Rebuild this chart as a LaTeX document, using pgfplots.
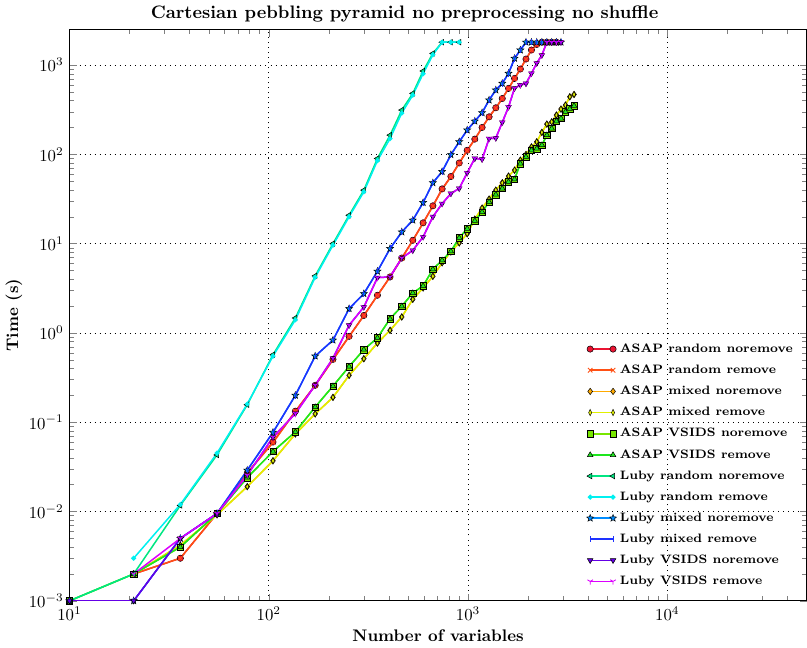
\documentclass[border=0pt]{standalone}
\usepackage{pgfplots}
\pgfplotsset{compat=1.18}
\usetikzlibrary{plotmarks}

\definecolor{c1}{RGB}{235,20,50}
\definecolor{c2}{RGB}{255,80,20}
\definecolor{c3}{RGB}{255,170,0}
\definecolor{c4}{RGB}{225,240,0}
\definecolor{c5}{RGB}{120,230,0}
\definecolor{c6}{RGB}{30,230,30}
\definecolor{c7}{RGB}{0,230,130}
\definecolor{c8}{RGB}{0,240,240}
\definecolor{c9}{RGB}{0,140,255}
\definecolor{c10}{RGB}{30,50,255}
\definecolor{c11}{RGB}{100,0,230}
\definecolor{c12}{RGB}{220,0,255}

% filled five-pointed star
\pgfdeclareplotmark{fstar}{%
  \pgfpathmoveto{\pgfpointpolar{90}{1.15\pgfplotmarksize}}%
  \pgfpathlineto{\pgfpointpolar{126}{0.5\pgfplotmarksize}}%
  \pgfpathlineto{\pgfpointpolar{162}{1.15\pgfplotmarksize}}%
  \pgfpathlineto{\pgfpointpolar{198}{0.5\pgfplotmarksize}}%
  \pgfpathlineto{\pgfpointpolar{234}{1.15\pgfplotmarksize}}%
  \pgfpathlineto{\pgfpointpolar{270}{0.5\pgfplotmarksize}}%
  \pgfpathlineto{\pgfpointpolar{306}{1.15\pgfplotmarksize}}%
  \pgfpathlineto{\pgfpointpolar{342}{0.5\pgfplotmarksize}}%
  \pgfpathlineto{\pgfpointpolar{18}{1.15\pgfplotmarksize}}%
  \pgfpathlineto{\pgfpointpolar{54}{0.5\pgfplotmarksize}}%
  \pgfpathclose
  \pgfusepathqfillstroke
}

\begin{document}
\begin{tikzpicture}
\begin{axis}[
  xmode=log, ymode=log,
  scale only axis,
  width=440pt, height=341pt,
  xmin=10, xmax=5e4,
  ymin=1e-3, ymax=2500,
  title={\textbf{Cartesian pebbling pyramid no preprocessing no shuffle}},
  title style={font=\fontsize{10.8}{13}\selectfont, yshift=-5pt, xshift=-20pt},
  xlabel={\textbf{Number of variables}},
  ylabel={\textbf{Time (s)}},
  xlabel style={yshift=1pt},
  ylabel style={yshift=-3pt},
  grid=major,
  major grid style={black, dash pattern=on 0.6pt off 2.4pt},
  tick align=inside,
  every axis plot/.append style={line width=0.9pt},
  mark size=1.9pt,
  legend style={at={(0.993,0.012)}, anchor=south east, draw=none, fill=none,
    font=\fontsize{7.3}{8.5}\selectfont\bfseries, row sep=2pt},
  legend cell align=left,
  legend image code/.code={\draw[#1, line width=0.9pt] plot coordinates {(0cm,0cm) (0.48cm,0cm)};},
]
% ASAP random noremove
\addplot[c1, mark=*, mark options={solid, fill=c1, draw=black, line width=0.3pt}]
  coordinates {(21,0.002)(36,0.003)(55,0.0095)(78,0.027)(105,0.060)(136,0.133)(171,0.259)
  (210,0.506)(253,0.916)(300,1.57)(351,2.64)(406,4.24)(465,6.9)(528,10.9)(595,17.1)(666,26.5)
  (741,41)(820,56.5)(903,80)(990,111)(1081,148)(1176,200)(1275,263)(1378,332)(1485,422)
  (1596,547)(1711,708)(1830,902)(1953,1167)(2080,1472)(2211,1700)(2346,1800)(2485,1800)
  (2628,1800)(2775,1800)};
% ASAP random remove
\addplot[c2, mark=x, mark options={solid, draw=c2, line width=0.5pt}]
  coordinates {(21,0.002)(36,0.003)(55,0.0095)(78,0.027)(105,0.059)(136,0.132)(171,0.258)
  (210,0.50)(253,0.91)(300,1.56)(351,2.62)(406,4.22)(465,6.85)(528,10.8)(595,17.0)(666,26.3)
  (741,40.5)(820,56)(903,79.5)(990,110)(1081,147)(1176,199)(1275,261)(1378,330)(1485,420)
  (1596,545)(1711,705)(1830,900)(1953,1160)(2080,1465)(2211,1700)(2346,1800)(2485,1800)
  (2628,1800)(2775,1800)};
% ASAP mixed noremove
\addplot[c3, mark=diamond*, mark options={solid, fill=c3, draw=black, line width=0.3pt}]
  coordinates {(21,0.002)(36,0.0042)(55,0.0092)(78,0.019)(105,0.037)(136,0.074)(171,0.124)
  (210,0.19)(253,0.335)(300,0.514)(351,0.77)(406,1.07)(465,1.51)(528,2.38)(595,3.19)(666,4.31)
  (741,6.1)(820,8.07)(903,10.2)(990,12.9)(1081,18.8)(1176,25)(1275,31.5)(1378,39.7)(1485,48)
  (1596,57)(1711,66.5)(1830,86)(1953,99.5)(2080,121)(2211,138)(2346,176)(2485,218)(2628,231)
  (2775,275)(2926,321)(3081,356)(3240,441)(3403,468)};
% ASAP mixed remove
\addplot[c4, mark=diamond*, mark options={solid, fill=c4, draw=black, line width=0.3pt, xscale=0.65}]
  coordinates {(21,0.002)(36,0.0042)(55,0.0092)(78,0.019)(105,0.037)(136,0.074)(171,0.124)
  (210,0.19)(253,0.335)(300,0.514)(351,0.77)(406,1.07)(465,1.51)(528,2.38)(595,3.19)(666,4.31)
  (741,6.1)(820,8.07)(903,10.2)(990,12.9)(1081,18.8)(1176,25)(1275,31.5)(1378,39.7)(1485,48)
  (1596,57)(1711,66.5)(1830,86)(1953,99.5)(2080,121)(2211,138)(2346,176)(2485,218)(2628,231)
  (2775,275)(2926,321)(3081,356)(3240,441)(3403,468)};
% ASAP VSIDS noremove
\addplot[c5, mark=square*, mark options={solid, fill=c5, draw=black, line width=0.3pt}]
  coordinates {(10,0.001)(21,0.002)(36,0.004)(55,0.0095)(78,0.024)(105,0.047)(136,0.078)
  (171,0.148)(210,0.254)(253,0.42)(300,0.65)(351,0.88)(406,1.44)(465,1.99)(528,2.8)(595,3.36)
  (666,5.16)(741,6.5)(820,8.2)(903,11.6)(990,14.7)(1081,18)(1176,22.6)(1275,29.3)(1378,35.4)
  (1485,41.4)(1596,49.2)(1711,52.7)(1830,78.8)(1953,93.7)(2080,111)(2211,116)(2346,127)
  (2485,164)(2628,195)(2775,235)(2926,252)(3081,299)(3240,323)(3403,350)};
% ASAP VSIDS remove
\addplot[c6, mark=triangle*, mark options={solid, fill=c6, draw=black, line width=0.3pt}]
  coordinates {(10,0.001)(21,0.002)(36,0.004)(55,0.0095)(78,0.024)(105,0.047)(136,0.078)
  (171,0.148)(210,0.254)(253,0.42)(300,0.65)(351,0.88)(406,1.44)(465,1.99)(528,2.8)(595,3.36)
  (666,5.16)(741,6.5)(820,8.2)(903,11.6)(990,14.7)(1081,18)(1176,22.6)(1275,29.3)(1378,35.4)
  (1485,41.4)(1596,49.2)(1711,52.7)(1830,78.8)(1953,93.7)(2080,111)(2211,116)(2346,127)
  (2485,164)(2628,195)(2775,235)(2926,252)(3081,299)(3240,323)(3403,350)};
% Luby random noremove
\addplot[c7, mark=triangle*, mark options={solid, fill=c7, draw=black, line width=0.3pt, rotate=90}]
  coordinates {(10,0.001)(21,0.002)(36,0.0117)(55,0.043)(78,0.157)(105,0.57)(136,1.47)
  (171,4.35)(210,10)(253,20.8)(300,39.7)(351,89.8)(406,164)(465,313)(528,481)(595,857)
  (666,1349)(741,1800)(820,1800)(903,1800)};
% Luby random remove
\addplot[c8, mark=*, mark size=1pt, mark options={solid, fill=c8, draw=c8}]
  coordinates {(21,0.003)(36,0.012)(55,0.045)(78,0.16)(105,0.55)(136,1.4)
  (171,4.2)(210,9.6)(253,20)(300,38)(351,85)(406,150)(465,290)(528,460)(595,800)
  (666,1300)(741,1800)(820,1800)(903,1800)};
% Luby mixed noremove
\addplot[c9, mark=fstar, mark options={solid, fill=c9, draw=black, line width=0.3pt}]
  coordinates {(10,0.001)(21,0.001)(36,0.005)(55,0.0095)(78,0.029)(105,0.077)(136,0.2)
  (171,0.55)(210,0.83)(253,1.87)(300,2.75)(351,4.9)(406,8.8)(465,13.5)(528,18.3)(595,28.8)
  (666,48)(741,64)(820,99)(903,138)(990,187)(1081,235)(1176,292)(1275,405)(1378,525)
  (1485,623)(1596,806)(1711,1186)(1830,1470)(1953,1800)(2080,1800)(2211,1800)(2346,1800)
  (2485,1800)(2628,1800)(2775,1800)(2926,1800)};
% Luby mixed remove
\addplot[c10, mark=|, mark options={solid, draw=c10, line width=0.5pt}]
  coordinates {(10,0.001)(21,0.001)(36,0.005)(55,0.0095)(78,0.029)(105,0.077)(136,0.2)
  (171,0.55)(210,0.83)(253,1.87)(300,2.75)(351,4.9)(406,8.8)(465,13.5)(528,18.3)(595,28.8)
  (666,48)(741,64)(820,99)(903,138)(990,187)(1081,235)(1176,292)(1275,405)(1378,525)
  (1485,623)(1596,806)(1711,1186)(1830,1470)(1953,1800)(2080,1800)(2211,1800)(2346,1800)
  (2485,1800)(2628,1800)(2775,1800)(2926,1800)};
% Luby VSIDS noremove
\addplot[c11, mark=triangle*, mark options={solid, fill=c11, draw=black, line width=0.3pt, rotate=180}]
  coordinates {(10,0.001)(21,0.001)(36,0.005)(55,0.0095)(78,0.0255)(105,0.068)(136,0.125)
  (171,0.26)(210,0.52)(253,1.22)(300,1.95)(351,4.16)(406,4.24)(465,6.9)(528,8.4)(595,11.9)
  (666,20)(741,28)(820,36.4)(903,41.5)(990,62)(1081,90)(1176,88)(1275,150)(1378,152)
  (1485,228)(1596,339)(1711,550)(1830,597)(1953,620)(2080,805)(2211,1050)(2346,1290)
  (2485,1800)(2628,1800)(2775,1800)(2926,1800)};
% Luby VSIDS remove
\addplot[c12, mark=Mercedes star flipped, mark options={solid, draw=c12, line width=0.5pt}]
  coordinates {(21,0.002)(36,0.005)(55,0.0095)(78,0.0255)(105,0.068)(136,0.125)
  (171,0.26)(210,0.52)(253,1.22)(300,1.95)(351,4.16)(406,4.24)(465,6.9)(528,8.4)(595,11.9)
  (666,20)(741,28)(820,36.4)(903,41.5)(990,62)(1081,90)(1176,88)(1275,150)(1378,152)
  (1485,228)(1596,339)(1711,550)(1830,597)(1953,620)(2080,805)(2211,1050)(2346,1290)
  (2485,1800)(2628,1800)(2775,1800)(2926,1800)};
\legend{ASAP random noremove, ASAP random remove, ASAP mixed noremove, ASAP mixed remove,
  ASAP VSIDS noremove, ASAP VSIDS remove, Luby random noremove, Luby random remove,
  Luby mixed noremove, Luby mixed remove, Luby VSIDS noremove, Luby VSIDS remove}
\end{axis}
\end{tikzpicture}
\end{document}
